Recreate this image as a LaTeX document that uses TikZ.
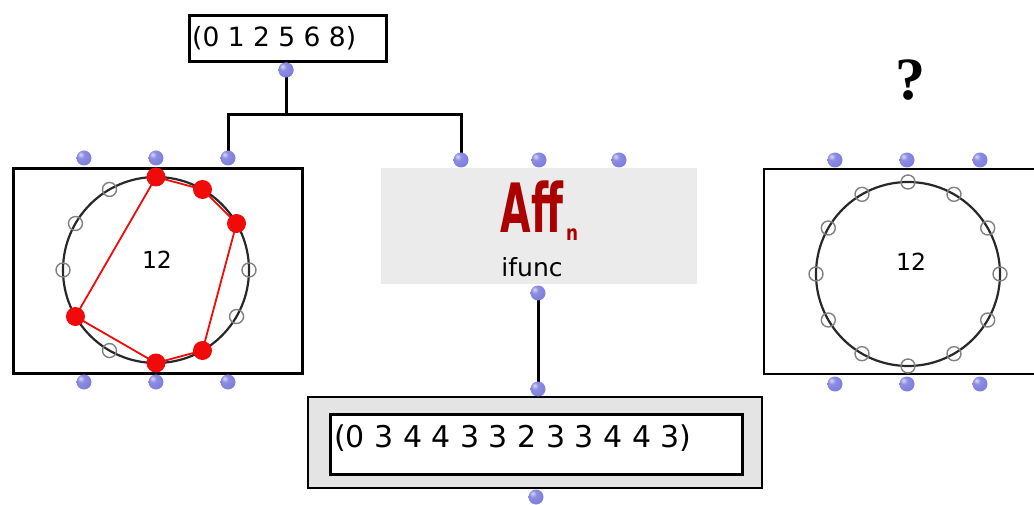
\documentclass[tikz,border=0pt]{standalone}
\usepackage{fontspec}
\usetikzlibrary{calc}
\newfontfamily\uifont{DejaVu Sans}
\newfontfamily\markfont{Liberation Serif}
\definecolor{dotc}{RGB}{128,128,222}
\definecolor{ringc}{RGB}{40,40,40}
\definecolor{pitchc}{RGB}{240,10,10}
\definecolor{panelc}{RGB}{235,235,235}
\definecolor{framec}{RGB}{228,228,228}
\definecolor{logoc}{RGB}{170,0,0}
% glossy port ball: highlight towards the upper left
\pgfdeclareradialshading{portball}{\pgfpoint{-12bp}{12bp}}{%
  color(0bp)=(white!70!dotc); color(12bp)=(dotc!90!white); color(30bp)=(dotc);
  color(50bp)=(dotc!80!black); color(100bp)=(dotc!80!black)}
\tikzset{
  port/.style={circle, inner sep=0pt, minimum size=15pt, shading=portball},
  frame/.style={draw=black, line width=2.8pt},
  wire/.style={draw=black, line width=3pt},
  listtext/.style={font=\uifont\fontsize{26.5}{30}\selectfont, inner sep=0pt, anchor=west},
  ring/.style={draw=ringc, line width=2.2pt},
  hollow/.style={circle, draw=gray, line width=1.4pt, inner sep=0pt, minimum size=14pt},
  pitch/.style={circle, fill=pitchc, inner sep=0pt, minimum size=19pt},
  numtext/.style={font=\uifont\fontsize{23.5}{26}\selectfont, inner sep=0pt},
}
\begin{document}
\begin{tikzpicture}[x=1pt,y=-1pt]
\useasboundingbox (0,0) rectangle (1034,505);
\fill[white] (0,0) rectangle (1034,505);

% source list
\node[frame, anchor=north west, minimum width=197pt, minimum height=46pt, inner sep=0pt] (src) at (188,14) {};
\node[listtext] (srctxt) at (192,38) {(0 1 2 5 6 8)};
\node[port] (srcout) at (286,70) {};

% left circle editor
\node[frame, anchor=north west, minimum width=289pt, minimum height=205pt, inner sep=0pt] (lbox) at (12,167) {};
\coordinate (lc) at (156,270);
\draw[ring] (lc) circle[radius=93];
\foreach \k in {3,4,7,9,10,11}
  \node[hollow] at ($(lc)+({90-30*\k}:93 and -93)$) {};
\foreach \k in {0,1,2,5,6,8}
  \coordinate (p\k) at ($(lc)+({90-30*\k}:93 and -93)$);
\draw[pitchc, line width=1.8pt] (p0) -- (p1) -- (p2) -- (p5) -- (p6) -- (p8) -- cycle;
\foreach \k in {0,1,2,5,6,8}
  \node[pitch] at (p\k) {};
\node[numtext] (lnum) at (157,260) {12};
\node[port] (lin1) at (84,158) {};
\node[port] (lin2) at (156,158) {};
\node[port] (lout1) at (84,382) {};
\node[port] (lout2) at (156,382) {};
\node[port] (lout3) at (228,382) {};

% ifunc box
\fill[panelc] (381,168) rectangle (697,284);
\node[inner sep=0pt, text=logoc, font=\uifont\bfseries\fontsize{68}{70}\selectfont] (aff) at (532,207) {\scalebox{0.58}[1]{Aff}};
\node[inner sep=0pt, text=logoc, font=\uifont\bfseries\fontsize{21}{24}\selectfont] (affn) at (572,235) {\scalebox{0.8}[1]{n}};
\node[inner sep=0pt, font=\uifont\fontsize{25}{28}\selectfont] (fname) at (532,267) {ifunc};
\node[port] (fin2) at (539,160) {};
\node[port] (fin3) at (619,160) {};

% result list
\filldraw[frame, fill=framec] (308,397) rectangle (762,488);
\node[frame, fill=white, anchor=north west, minimum width=412pt, minimum height=60pt, inner sep=0pt] (res) at (329,413) {};
\node[listtext, font=\uifont\fontsize{30}{34}\selectfont] (restxt) at (334,438) {(0 3 4 4 3 3 2 3 3 4 4 3)};
\node[port] (resout) at (536,497) {};

% right circle editor
\draw[frame] (1037,169) -- (764,169) -- (764,374) -- (1037,374);
\coordinate (rc) at (908,274);
\draw[ring] (rc) circle[radius=92];
\foreach \k in {0,...,11}
  \node[hollow] at ($(rc)+({90-30*\k}:92 and -92)$) {};
\node[numtext] (rnum) at (911,262) {12};
\node[port] (rin1) at (835,160) {};
\node[port] (rin2) at (907,160) {};
\node[port] (rin3) at (980,160) {};
\node[port] (rout1) at (835,384) {};
\node[port] (rout2) at (907,384) {};
\node[port] (rout3) at (980,384) {};

\node[font=\markfont\bfseries\fontsize{60}{64}\selectfont, inner sep=0pt] (q) at (910,80) {?};

% connections, drawn under the ports they join
\coordinate (split) at (286,115);
\coordinate (lin3) at (228,158);
\coordinate (fin1) at (461,160);
\coordinate (fout) at (538,293);
\coordinate (resin) at (538,389);
\draw[wire] (srcout.center) -- (split) -| (lin3);
\draw[wire] (split) -| (fin1);
\draw[wire] (fout) -- (resin);
\node[port] (srcdot) at (srcout) {};
\node[port] (lin3dot) at (lin3) {};
\node[port] (fin1dot) at (fin1) {};
\node[port] (foutdot) at (fout) {};
\node[port] (resindot) at (resin) {};
\end{tikzpicture}
\end{document}
